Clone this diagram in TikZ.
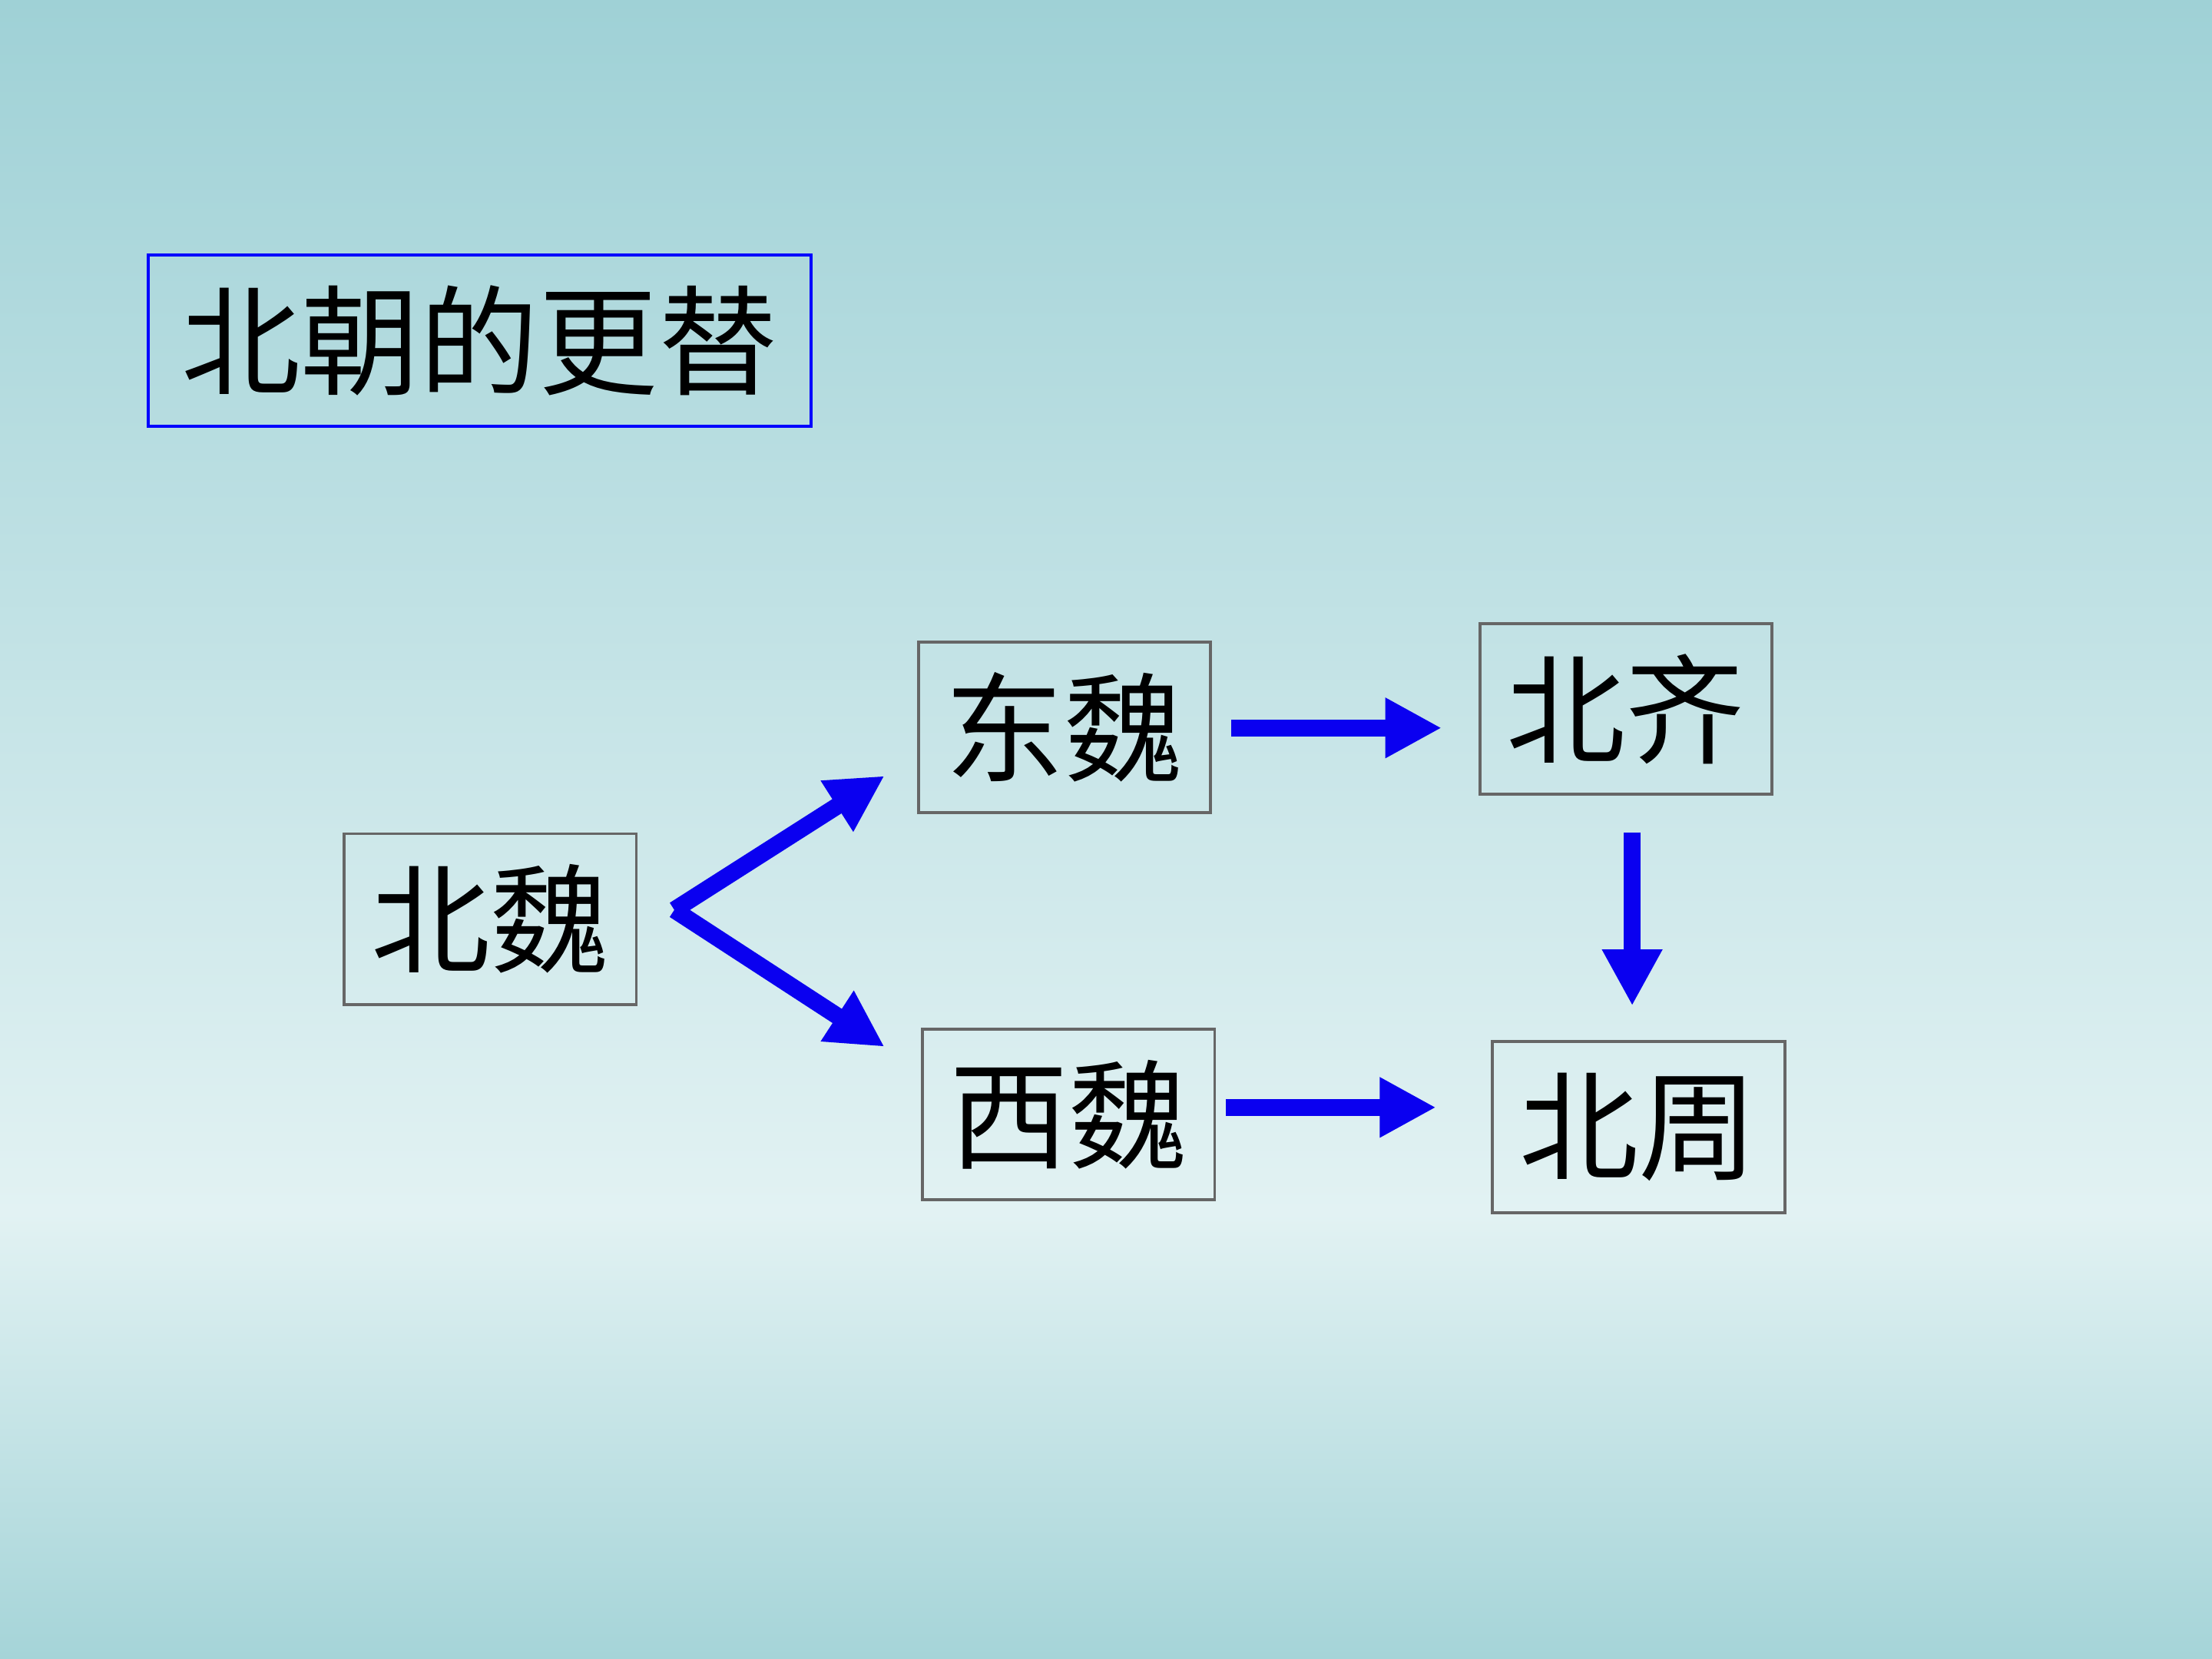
\documentclass[tikz,border=0pt]{standalone}
\usepackage{fontspec}
\newfontfamily\cjk{Noto Sans CJK SC}
\usetikzlibrary{arrows.meta}
\definecolor{bgtop}{HTML}{9FD1D6}
\definecolor{bgmid}{HTML}{E2F2F3}
\definecolor{bgbot}{HTML}{A5D4D8}
\definecolor{arr}{HTML}{0A00F0}
\tikzset{
 box/.style={draw=black!60, line width=0.6pt, minimum width=2.07cm, minimum height=1.21cm, inner sep=0pt, font=\cjk\fontsize{24}{24}\selectfont},
 flow/.style={draw=arr, line width=0.12cm, -{Triangle[length=0.4cm,width=0.4cm]}}
}
\begin{document}
\begin{tikzpicture}[x=0.01cm,y=-0.01cm]
\useasboundingbox (0,0) rectangle (1568,1176);
\shade[top color=bgtop, bottom color=bgmid] (0,0) rectangle (1568,860);
\shade[top color=bgmid, bottom color=bgbot] (0,860) rectangle (1568,1176);
\node[box, draw=blue, minimum width=4.7cm] (title) at (340,241.5) {北朝的更替};
\node[box] (bw) at (347.5,651.5) {北魏};
\node[box] (dw) at (754.5,515.5) {东魏};
\node[box] (bq) at (1152.5,502.5) {北齐};
\node[box] (xw) at (757.5,790) {西魏};
\node[box] (bz) at (1161.5,799) {北周};
\coordinate (s1) at (478,645);
\coordinate (e1) at (627,550);
\coordinate (e2) at (627,742);
\coordinate (s3) at (873,516);
\coordinate (e3) at (1022,516);
\coordinate (s4) at (1157,590);
\coordinate (e4) at (1157,713);
\coordinate (s5) at (869,785);
\coordinate (e5) at (1018,785);
\draw[flow] (s1) -- (e1);
\draw[flow] (s1) -- (e2);
\draw[flow] (s3) -- (e3);
\draw[flow] (s4) -- (e4);
\draw[flow] (s5) -- (e5);
\end{tikzpicture}
\end{document}
